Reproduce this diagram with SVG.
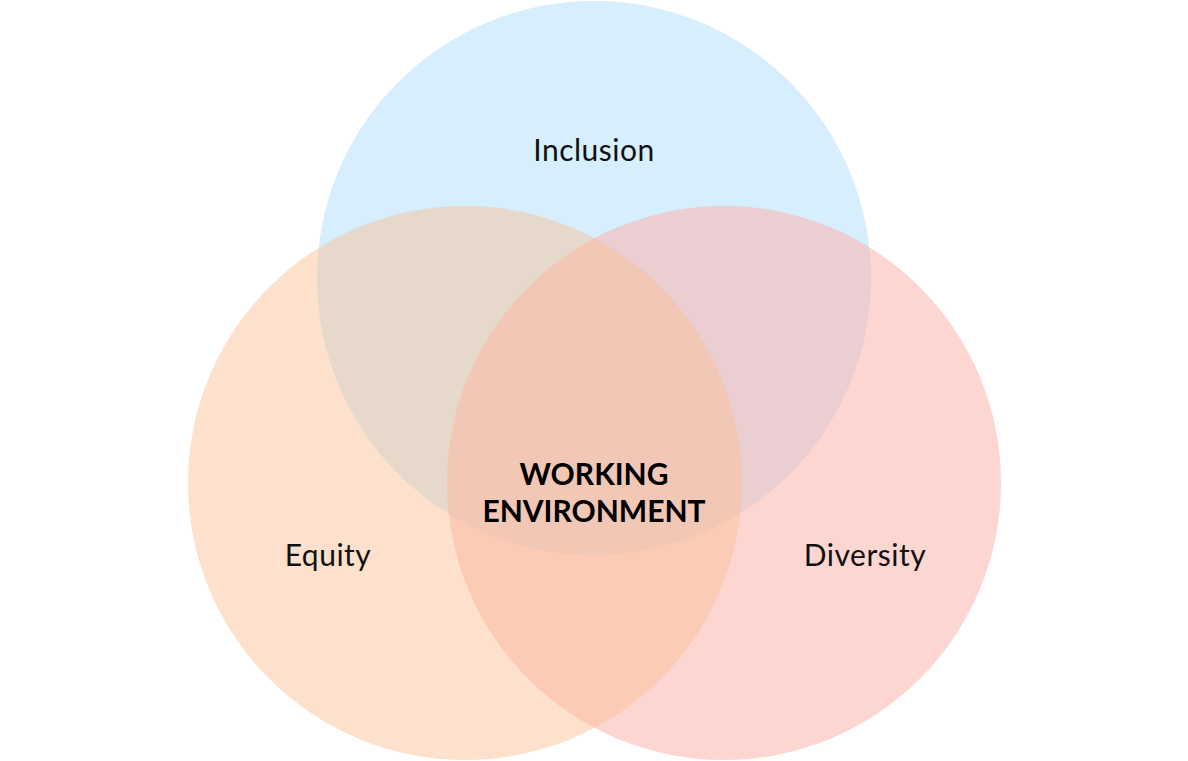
<svg xmlns="http://www.w3.org/2000/svg" width="1188" height="761" viewBox="0 0 1188 761">
<style>
.lbl{font-family:"Lato","Open Sans","Liberation Sans",sans-serif;font-size:30px;fill:#111;text-anchor:middle;letter-spacing:0.5px}
.ctr{font-family:"Lato","Open Sans","Liberation Sans",sans-serif;font-size:30px;font-weight:bold;fill:#000;text-anchor:middle}
</style>
<rect width="1188" height="761" fill="#ffffff"/>
<g id="inclusion"><circle cx="594" cy="278" r="277" fill="#d6eefd"/></g>
<g id="diversity"><circle cx="724" cy="483" r="277" fill="#fbb4ad" fill-opacity="0.55"/></g>
<g id="equity"><circle cx="465" cy="483" r="277" fill="#fbbf95" fill-opacity="0.47"/></g>
<g id="connectors"></g>
<g id="labels">
<text class="lbl" x="594" y="161">Inclusion</text>
<text class="lbl" x="328" y="566">Equity</text>
<text class="lbl" x="865" y="566">Diversity</text>
<text class="ctr" x="594" y="485">WORKING</text>
<text class="ctr" x="594" y="522">ENVIRONMENT</text>
</g>
</svg>
